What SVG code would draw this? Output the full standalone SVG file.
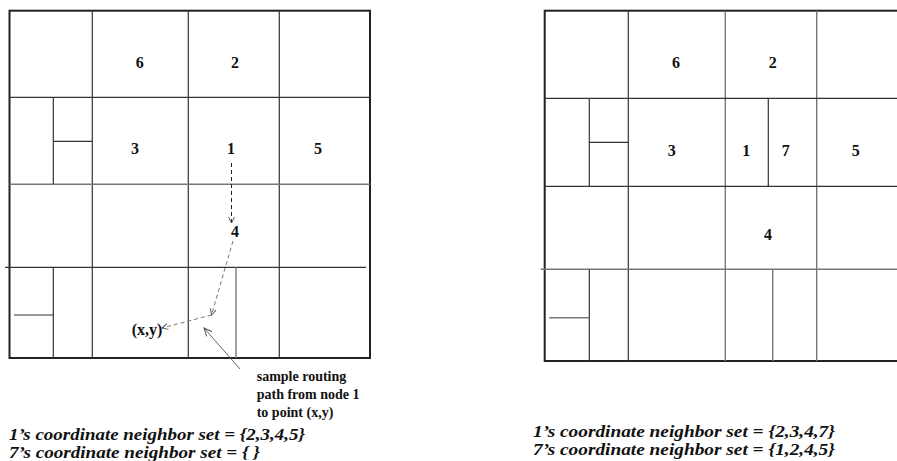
<svg xmlns="http://www.w3.org/2000/svg" width="897" height="461" viewBox="0 0 897 461">
<defs>
<style>
.outer{fill:none;stroke:#222;stroke-width:2}
.ln{stroke:#333;stroke-width:1.2;fill:none}
.lg{stroke:#777;stroke-width:1.4;fill:none}
.num{font-family:"Liberation Serif",serif;font-weight:bold;font-size:16px;fill:#111;text-anchor:middle}
.note{font-family:"Liberation Serif",serif;font-weight:bold;font-size:14px;fill:#111}
.cap{font-family:"Liberation Serif",serif;font-weight:bold;font-style:italic;font-size:17px;fill:#111}
.dash{fill:none;stroke-width:1;stroke-dasharray:4 3}
</style>
<marker id="ah" markerWidth="8" markerHeight="8" refX="7" refY="4" orient="auto" markerUnits="userSpaceOnUse">
<path d="M1,1 L7,4 L1,7" fill="none" stroke="#555" stroke-width="1"/>
</marker>
<marker id="ahs" markerWidth="10" markerHeight="10" refX="9" refY="5" orient="auto" markerUnits="userSpaceOnUse">
<path d="M1,1.5 L9,5 L1,8.5" fill="none" stroke="#555" stroke-width="1"/>
</marker>
</defs>

<g id="left-grid">
<rect class="outer" x="9.5" y="10.7" width="360.5" height="347.3"/>
<line class="ln" x1="92.3" y1="10.7" x2="92.3" y2="358"/>
<line class="ln" x1="188.3" y1="10.7" x2="188.3" y2="358"/>
<line class="ln" x1="279.3" y1="10.7" x2="279.3" y2="358"/>
<line class="ln" x1="9.5" y1="97.3" x2="370" y2="97.3"/>
<line class="lg" x1="9.5" y1="184.3" x2="370" y2="184.3"/>
<line class="ln" x1="5" y1="267.3" x2="366" y2="267.3"/>
<line class="ln" x1="53.3" y1="97.3" x2="53.3" y2="184.3"/>
<line class="ln" x1="53.3" y1="141.3" x2="92.3" y2="141.3"/>
<line class="ln" x1="53.3" y1="267.3" x2="53.3" y2="358"/>
<line class="ln" x1="14" y1="315" x2="53.3" y2="315"/>
<line class="lg" x1="236" y1="267.3" x2="236" y2="358"/>
</g>

<g id="left-labels">
<g id="L6"><text class="num" x="139.7" y="68">6</text></g>
<g id="L2"><text class="num" x="235" y="68">2</text></g>
<g id="L3"><text class="num" x="135" y="154">3</text></g>
<g id="L1"><text class="num" x="231" y="154">1</text></g>
<g id="L5"><text class="num" x="318" y="154">5</text></g>
<g id="L4"><text class="num" x="235" y="237">4</text></g>
<g id="Lxy"><text class="num" x="147" y="335">(x,y)</text></g>
</g>

<g id="connectors">
<line class="dash" stroke="#222" x1="231.5" y1="163" x2="231.5" y2="223" marker-end="url(#ah)"/>
<line class="dash" stroke="#777" x1="233" y1="241" x2="211.5" y2="315" marker-end="url(#ah)"/>
<line class="dash" stroke="#777" x1="211.5" y1="315" x2="162" y2="328" marker-end="url(#ah)"/>
<line stroke="#666" stroke-width="1" x1="240" y1="369" x2="204" y2="328" marker-end="url(#ahs)"/>
</g>

<g id="note">
<text class="note" x="256.7" y="381">sample routing</text>
<text class="note" x="256.7" y="399">path from node 1</text>
<text class="note" x="256.7" y="417">to point (x,y)</text>
</g>

<g id="left-caption">
<text class="cap" x="9" y="440" textLength="296" lengthAdjust="spacingAndGlyphs">1’s coordinate neighbor set = {2,3,4,5}</text>
<text class="cap" x="9" y="458" textLength="251" lengthAdjust="spacingAndGlyphs">7’s coordinate neighbor set = { }</text>
</g>

<g id="right-grid">
<rect class="outer" x="544.7" y="10.7" width="365" height="350.3"/>
<line class="ln" x1="628.3" y1="10.7" x2="628.3" y2="361"/>
<line class="lg" x1="725.3" y1="10.7" x2="725.3" y2="361"/>
<line class="lg" x1="816.7" y1="10.7" x2="816.7" y2="361"/>
<line class="ln" x1="544.7" y1="98.3" x2="897" y2="98.3"/>
<line class="ln" x1="544.7" y1="186.3" x2="897" y2="186.3"/>
<line class="lg" x1="540.7" y1="269.3" x2="897" y2="269.3"/>
<line class="ln" x1="589.3" y1="98.3" x2="589.3" y2="186.3"/>
<line class="ln" x1="589.3" y1="142.3" x2="628.3" y2="142.3"/>
<line class="ln" x1="768.3" y1="98.3" x2="768.3" y2="186.3"/>
<line class="ln" x1="589.3" y1="269.3" x2="589.3" y2="361"/>
<line class="lg" x1="549.3" y1="317.7" x2="589.3" y2="317.7"/>
<line class="lg" x1="772.7" y1="269.3" x2="772.7" y2="361"/>
</g>

<g id="right-labels">
<g id="R6"><text class="num" x="676" y="68">6</text></g>
<g id="R2"><text class="num" x="772.7" y="68">2</text></g>
<g id="R3"><text class="num" x="671.7" y="156">3</text></g>
<g id="R1"><text class="num" x="746.3" y="156">1</text></g>
<g id="R7"><text class="num" x="785.7" y="156">7</text></g>
<g id="R5"><text class="num" x="855.7" y="156">5</text></g>
<g id="R4"><text class="num" x="768" y="240">4</text></g>
</g>

<g id="right-caption">
<text class="cap" x="533" y="437" textLength="302" lengthAdjust="spacingAndGlyphs">1’s coordinate neighbor set = {2,3,4,7}</text>
<text class="cap" x="533" y="455" textLength="302" lengthAdjust="spacingAndGlyphs">7’s coordinate neighbor set = {1,2,4,5}</text>
</g>
</svg>
